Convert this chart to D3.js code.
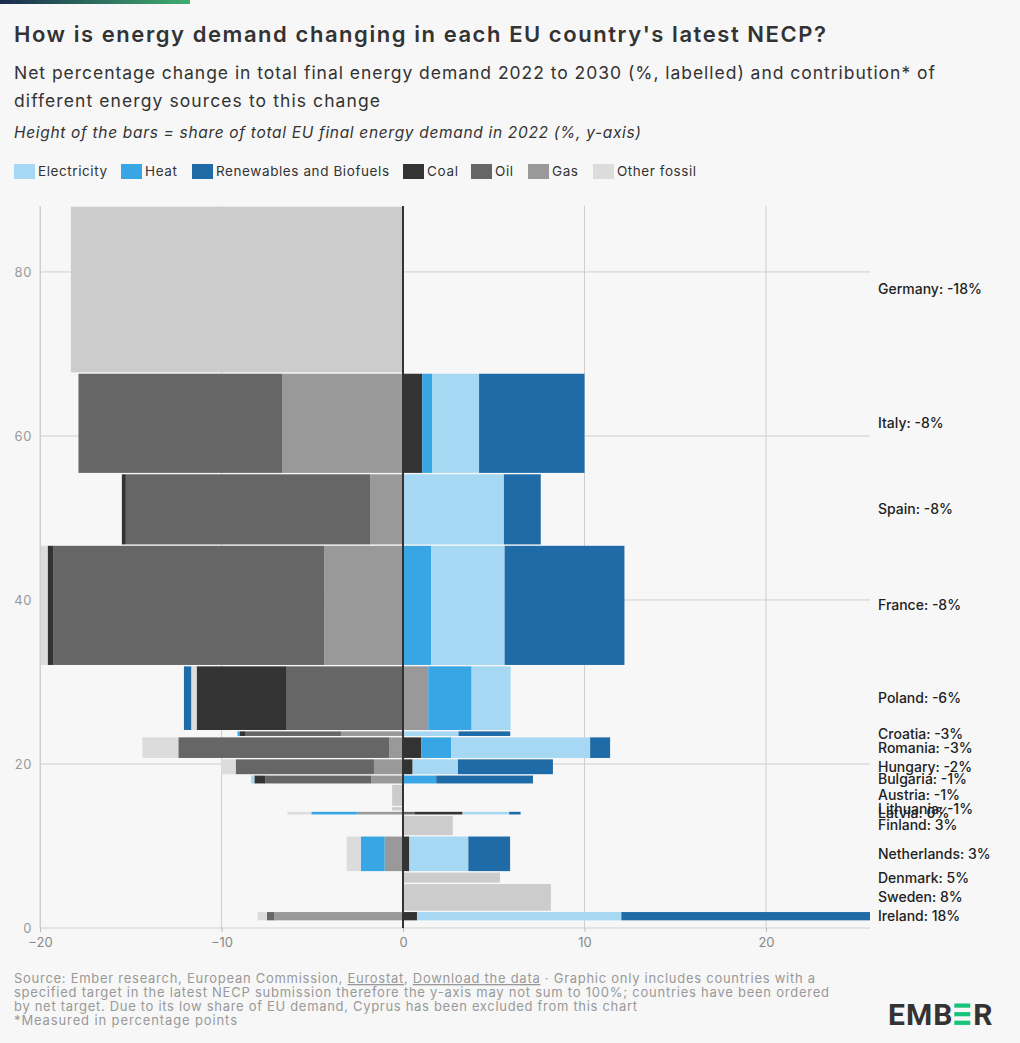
<!DOCTYPE html>
<html><head><meta charset="utf-8">
<script src="https://cdn.jsdelivr.net/npm/d3@7"></script>
<style>
html,body{margin:0;padding:0;background:#f7f7f7;}
svg{display:block;font-family:Inter,"Noto Sans",sans-serif;}
</style></head><body>
<svg id="chart" width="1020" height="1043"></svg>
<script>
// ---- data (countries listed top to bottom, ordered by net target) ----
const countries = ["Germany","Italy","Spain","France","Poland","Croatia","Romania","Hungary","Bulgaria","Austria","Lithuania","Latvia","Finland","Netherlands","Denmark","Sweden","Ireland"];
const netChange = [-18,-8,-8,-8,-6,-3,-3,-2,-1,-1,-1,0,3,3,5,8,18];
const demandShare = [20.37,12.26,8.72,14.70,7.93,0.73,2.68,1.98,1.13,2.72,0.57,0.49,2.52,4.39,1.41,3.41,1.18];
const baseOffset = 0.85;

const gas         = [0,-6.66,-1.80,-4.34, 1.39,-3.42,-0.75,-1.60,-1.75,0,0,-2.50,0,-1.01,0,0,-7.10];
const oil         = [0,-11.22,-13.47,-14.94,-6.41,-5.25,-11.63,-7.62,-5.84,0,0,0.66,0,0,0,0,-0.40];
const coal        = [0, 1.06,-0.22,-0.30,-4.96,-0.31, 1.00, 0.53,-0.60,0,0,2.62,0,0.35,0,0,0.77];
const heat        = [0, 0.54, 0, 1.55, 2.39,-0.14, 1.65, 0, 1.83,0,0,-2.55,0,-1.32,0,0,0];
const electricity = [0, 2.59, 5.56, 4.05, 2.15, 3.06, 7.66, 2.50,-0.18,0,0,2.57,0,3.25,0,0,11.26];
const otherFossil = [0, 0, 0,-0.60,-0.30, 0,-1.98,-0.80, 0,0,0,-1.32,0,-0.77,0,0,-0.51];
const renewables  = [0, 5.81, 2.03, 6.60,-0.40, 2.85, 1.10, 5.23, 5.33,0,0,0.63,0,2.30,0,0,13.97];
const totalOnly   = [-18.30,0,0,0,0,0,0,0,0,-0.60,-0.60,0,2.74,0,5.34,8.15,0];

const legendLabels = ["Electricity","Heat","Renewables and Biofuels","Coal","Oil","Gas","Other fossil"];
const xTicks = [-20,-10,0,10,20];
const yTicks = [0,20,40,60,80];

// ---- series & colours ----
const seriesKeys = ["Gas","Oil","Coal","Heat","Electricity","Other fossil","Renewables and Biofuels","Total"];
const seriesData = {"Gas":gas,"Oil":oil,"Coal":coal,"Heat":heat,"Electricity":electricity,"Other fossil":otherFossil,"Renewables and Biofuels":renewables,"Total":totalOnly};
const colors = {"Electricity":"#a6d7f3","Heat":"#38a5e4","Renewables and Biofuels":"#1f6ba7","Coal":"#333333","Oil":"#666666","Gas":"#999999","Other fossil":"#dcdcdc","Total":"#cccccc"};

// fit a text's width by letter-spacing
function fit(t, target){
  const w = t.node().getComputedTextLength();
  const n = t.text().length;
  if (n>1) t.attr("letter-spacing", ((target - w)/(n-1)).toFixed(3));
  return t;
}

// ---- build rows with band positions ----
const rows = countries.map((c,i)=>{
  const r = {country:c, net:netChange[i], share:demandShare[i]};
  seriesKeys.forEach(k=> r[k]=seriesData[k][i]);
  return r;
});
let acc = baseOffset;
for (let i = rows.length-1; i>=0; i--) { rows[i].y0 = acc; acc += rows[i].share; rows[i].y1 = acc; }
const yMax = acc;

const svg = d3.select("#chart");
svg.append("rect").attr("width",1020).attr("height",1043).attr("fill","#f7f7f7");

// top accent bar
const defs = svg.append("defs");
const grad = defs.append("linearGradient").attr("id","accent");
grad.append("stop").attr("offset","0%").attr("stop-color","#1b2b4d");
grad.append("stop").attr("offset","100%").attr("stop-color","#3fae6e");
svg.append("rect").attr("x",0).attr("y",0).attr("width",190).attr("height",4).attr("fill","url(#accent)");

// titles
fit(svg.append("text").attr("x",14).attr("y",42).attr("font-size",22).attr("font-weight",600).attr("fill","#333")
  .text("How is energy demand changing in each EU country's latest NECP?"), 812);
fit(svg.append("text").attr("x",14).attr("y",79).attr("font-size",17.5).attr("fill","#333")
  .text("Net percentage change in total final energy demand 2022 to 2030 (%, labelled) and contribution* of"), 921);
fit(svg.append("text").attr("x",14).attr("y",107).attr("font-size",17.5).attr("fill","#333")
  .text("different energy sources to this change"), 366);
fit(svg.append("text").attr("x",14).attr("y",138).attr("font-size",15.5).attr("font-style","italic").attr("fill","#333")
  .text("Height of the bars = share of total EU final energy demand in 2022 (%, y-axis)"), 627);

// legend
const legendX = [14,121,192,403,471,528,593];
const legendW = [69,32,173,31,18,26,79];
const legendG = svg.append("g");
legendLabels.forEach((l,i)=>{
  legendG.append("rect").attr("x",legendX[i]).attr("y",164).attr("width",21).attr("height",15).attr("fill",colors[l]);
  fit(legendG.append("text").attr("x",legendX[i]+24).attr("y",176).attr("font-size",13.5).attr("fill","#333").text(l), legendW[i]);
});

// scales
const x = d3.scaleLinear().domain([-20,25.73]).range([40,870]);
const y = d3.scaleLinear().domain([0,yMax]).range([928,206]);

// grid
const grid = svg.append("g");
grid.selectAll(".hg").data(yTicks).join("line")
  .attr("x1",40).attr("x2",870).attr("y1",d=>y(d)).attr("y2",d=>y(d))
  .attr("stroke","#cfcfcf").attr("stroke-width",1);
grid.selectAll(".vg").data(xTicks.filter(d=>d!==0)).join("line")
  .attr("x1",d=>x(d)).attr("x2",d=>x(d)).attr("y1",206).attr("y2",928)
  .attr("stroke","#cfcfcf").attr("stroke-width",1);

// clip
defs.append("clipPath").attr("id","plotclip").append("rect")
  .attr("x",40).attr("y",200).attr("width",830).attr("height",730);

// stacks
const stack = d3.stack().keys(seriesKeys).offset(d3.stackOffsetDiverging);
const stacked = stack(rows);
const barsG = svg.append("g").attr("clip-path","url(#plotclip)");
stacked.forEach(s=>{
  barsG.append("g").attr("fill",colors[s.key]).selectAll("rect")
    .data(s.filter(d=>d[1]-d[0]!==0))
    .join("rect")
    .attr("x",d=>x(Math.min(d[0],d[1])))
    .attr("width",d=>Math.abs(x(d[1])-x(d[0])))
    .attr("y",d=>y(d.data.y1)+0.7)
    .attr("height",d=>Math.max(0.6,y(d.data.y0)-y(d.data.y1)-1.4));
});

// zero line
svg.append("line").attr("x1",x(0)).attr("x2",x(0)).attr("y1",206).attr("y2",928)
  .attr("stroke","#333").attr("stroke-width",2);

// axes
const xAxis = svg.append("g").attr("transform","translate(0,928)")
  .call(d3.axisBottom(x).tickValues(xTicks).tickSize(4).tickFormat(d=>d<0?"\u2212"+Math.abs(d):d));
xAxis.select(".domain").remove();
xAxis.selectAll("line").attr("stroke","#bbb");
xAxis.selectAll("text").attr("font-size",13).attr("fill","#888").attr("font-family","Inter,sans-serif").attr("dy","0.9em");

const yAxis = svg.append("g").attr("transform","translate(40,0)")
  .call(d3.axisLeft(y).tickValues(yTicks).tickSize(0).tickPadding(8));
yAxis.select(".domain").attr("stroke","#cfcfcf");
yAxis.selectAll("text").attr("font-size",13).attr("fill","#999").attr("font-family","Inter,sans-serif").attr("letter-spacing",0.6);

// country labels
svg.append("g").selectAll("text").data(rows).join("text")
  .attr("x",878).attr("y",d=>(y(d.y0)+y(d.y1))/2).attr("dy","0.35em")
  .attr("font-size",14).attr("font-weight",500).attr("fill","#222")
  .text(d=>`${d.country}: ${d.net<0?"-":""}${Math.abs(d.net)}%`);

// footer
const foot = svg.append("g").attr("font-size",13).attr("fill","#999");
const f1 = foot.append("text").attr("x",14).attr("y",983);
f1.append("tspan").text("Source: Ember research, European Commission, ");
f1.append("tspan").attr("text-decoration","underline").text("Eurostat");
f1.append("tspan").text(", ");
f1.append("tspan").attr("text-decoration","underline").text("Download the data");
f1.append("tspan").text(" \u00b7 Graphic only includes countries with a");
fit(f1, 801);
fit(foot.append("text").attr("x",14).attr("y",997).text("specified target in the latest NECP submission therefore the y-axis may not sum to 100%; countries have been ordered"), 815);
fit(foot.append("text").attr("x",14).attr("y",1011).text("by net target. Due to its low share of EU demand, Cyprus has been excluded from this chart"), 623);
fit(foot.append("text").attr("x",14).attr("y",1025).text("*Measured in percentage points"), 223);

// logo
const logo = svg.append("g").attr("font-family","Roboto,sans-serif").attr("font-weight",700).attr("font-size",30).attr("fill","#333").attr("letter-spacing",1);
const t1 = logo.append("text").attr("x",888).attr("y",1025).text("EMB");
const w1 = t1.node().getComputedTextLength();
const bx = 888 + w1 + 1;
[0,1,2].forEach(i=>logo.append("rect").attr("x",bx).attr("y",1003.5+i*8.6).attr("width",16).attr("height",4.2).attr("fill","#17c27a"));
logo.append("text").attr("x",bx+19).attr("y",1025).text("R");
</script>
</body></html>
